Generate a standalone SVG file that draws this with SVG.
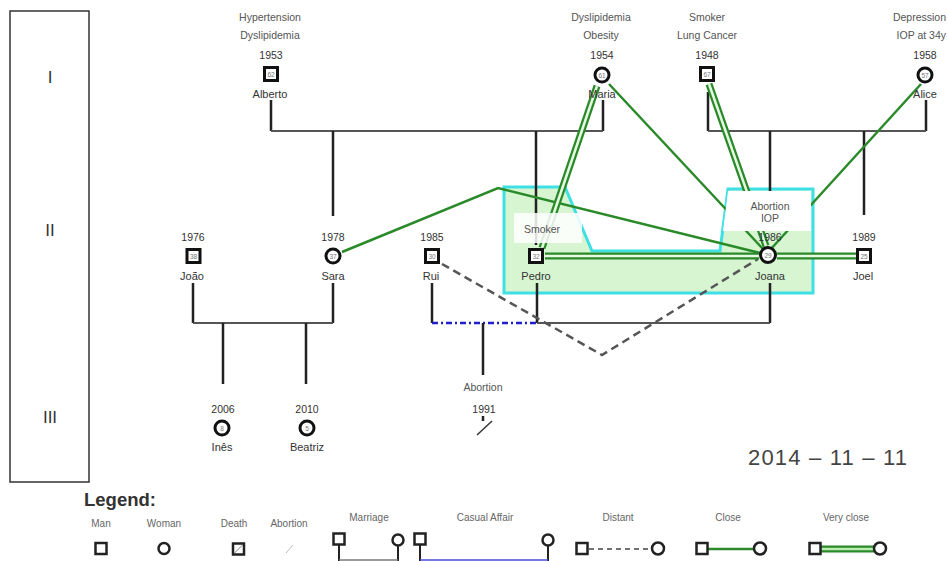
<svg xmlns="http://www.w3.org/2000/svg" width="948" height="561" viewBox="0 0 948 561">
<style>
text{font-family:"Liberation Sans",Arial,sans-serif;}
.cond{font-size:10.5px;fill:#555;text-anchor:middle;}
.yr{font-size:10.5px;fill:#333;text-anchor:middle;}
.nm{font-size:11px;fill:#333;text-anchor:middle;}
.age{font-size:6.5px;fill:#777;text-anchor:middle;}
.sq{fill:#fff;stroke:#111;stroke-width:3;}
.ci{fill:#fff;stroke:#111;stroke-width:3;}
.fam{stroke:#222;stroke-width:2.5;fill:none;}
.hz{stroke:#555;stroke-width:2;fill:none;}
.close{stroke:#2a8a2a;stroke-width:2.5;fill:none;}
.vc-o{stroke:#2a8a2a;stroke-width:7;fill:none;}
.vc-i{stroke:#e6fae2;stroke-width:2.5;fill:none;}
.dist{stroke:#555;stroke-width:2.5;stroke-dasharray:8 5;fill:none;}
.aff{stroke:#1f1fcc;stroke-width:2.5;stroke-dasharray:6 3 2 3;fill:none;}
.gen{font-size:17px;fill:#333;text-anchor:middle;}
.lg{font-size:10px;fill:#666;text-anchor:middle;}
.lsq{fill:#fff;stroke:#222;stroke-width:2.5;}
</style>
<rect width="948" height="561" fill="#fff"/>

<g id="generations">
<rect x="10" y="11" width="79" height="471" fill="none" stroke="#333" stroke-width="1.5"/>
<text class="gen" x="50" y="83">I</text>
<text class="gen" x="50" y="236">II</text>
<text class="gen" x="50" y="423">III</text>
</g>

<g id="highlight">
<polygon points="504,187 565,187 592,251 720,251 728,189 813,189 813,293 504,293" fill="#d6f5d0" stroke="#3ee0e6" stroke-width="3"/>
</g>

<g id="connectors">
<path class="fam" d="M271,100 V131 M603,100 V131"/>
<path class="hz" d="M271,131 H603"/>
<path class="fam" d="M333,131 V216 M536,131 V245"/>
<path class="fam" d="M708,92 V131 M926,100 V131"/>
<path class="hz" d="M708,131 H926"/>
<path class="fam" d="M770,131 V195 M864,131 V215"/>
<path class="fam" d="M193,283 V323 M333,283 V323"/>
<path class="hz" d="M193,323 H333"/>
<path class="fam" d="M223,323 V384 M306,323 V384"/>
<path class="fam" d="M432,283 V323 M537,283 V323 M770,283 V323"/>
<path class="hz" d="M537,323 H770"/>
<path class="aff" d="M432,323 H537"/>
<path class="fam" d="M483,323 V375"/>
<path class="dist" d="M442,264 L602,355 L758,259"/>
<path class="close" d="M342,252 L498,188 L760,253"/>
<path class="close" d="M609,84 L763,249"/>
<path class="close" d="M921,84 L770,250"/>
<path class="vc-o" d="M597,86 L542,248"/>
<path class="vc-i" d="M597,86 L542,248"/>
<path class="vc-o" d="M709,84 L766,246"/>
<path class="vc-i" d="M709,84 L766,246"/>
<path class="vc-o" d="M545,256 H759 M777,256 H856"/>
<path class="vc-i" d="M545,256 H759 M777,256 H856"/>
</g>

<g id="label-backgrounds">
<rect x="514" y="213" width="68" height="30" fill="#fff" opacity="0.85"/>
<polygon points="728,191 811,191 811,231 723,231" fill="#fff"/>
</g>

<g id="node-alberto">
<text class="cond" x="270" y="21">Hypertension</text>
<text class="cond" x="270" y="39">Dyslipidemia</text>
<text class="yr" x="271" y="59">1953</text>
<rect class="sq" x="264.5" y="67.5" width="13" height="13"/>
<text class="age" x="271" y="76.5">62</text>
<text class="nm" x="270" y="98">Alberto</text>
</g>

<g id="node-maria">
<text class="cond" x="601" y="21">Dyslipidemia</text>
<text class="cond" x="601" y="39">Obesity</text>
<text class="yr" x="602" y="59">1954</text>
<circle class="ci" cx="602" cy="75" r="7"/>
<text class="age" x="602" y="77.5">61</text>
<text class="nm" x="602" y="98">Maria</text>
</g>

<g id="node-1948">
<text class="cond" x="707" y="21">Smoker</text>
<text class="cond" x="707" y="39">Lung Cancer</text>
<text class="yr" x="707" y="59">1948</text>
<rect class="sq" x="700.5" y="67.5" width="13" height="13"/>
<text class="age" x="707" y="76.5">67</text>
</g>

<g id="node-alice">
<text class="cond" x="946" y="21" style="text-anchor:end">Depression</text>
<text class="cond" x="946" y="39" style="text-anchor:end">IOP at 34y</text>
<text class="yr" x="925" y="59">1958</text>
<circle class="ci" cx="925" cy="75" r="7"/>
<text class="age" x="925" y="77.5">57</text>
<text class="nm" x="925" y="98">Alice</text>
</g>

<g id="node-joao">
<text class="yr" x="193" y="241">1976</text>
<rect class="sq" x="187" y="249.5" width="13" height="13"/>
<text class="age" x="193.5" y="258.5">38</text>
<text class="nm" x="192" y="280">João</text>
</g>

<g id="node-sara">
<text class="yr" x="333" y="241">1978</text>
<circle class="ci" cx="333" cy="256" r="7"/>
<text class="age" x="333" y="258.5">37</text>
<text class="nm" x="333" y="280">Sara</text>
</g>

<g id="node-rui">
<text class="yr" x="432" y="241">1985</text>
<rect class="sq" x="425.5" y="249.5" width="13" height="13"/>
<text class="age" x="432" y="258.5">30</text>
<text class="nm" x="431" y="280">Rui</text>
</g>

<g id="node-pedro">
<text class="cond" x="542" y="233">Smoker</text>
<rect class="sq" x="529.5" y="249.5" width="13" height="13"/>
<text class="age" x="536" y="258.5">32</text>
<text class="nm" x="536" y="280">Pedro</text>
</g>

<g id="node-joana">
<text class="cond" x="770" y="210">Abortion</text>
<text class="cond" x="770" y="222">IOP</text>
<text class="yr" x="770" y="241">1986</text>
<circle class="ci" cx="768" cy="255" r="7.5"/>
<text class="age" x="768" y="257.5">29</text>
<text class="nm" x="770" y="280">Joana</text>
</g>

<g id="node-joel">
<text class="yr" x="864" y="241">1989</text>
<rect class="sq" x="857.5" y="249.5" width="13" height="13"/>
<text class="age" x="864" y="258.5">25</text>
<text class="nm" x="863" y="280">Joel</text>
</g>

<g id="node-ines">
<text class="yr" x="223" y="413">2006</text>
<circle class="ci" cx="222" cy="428" r="7"/>
<text class="age" x="222" y="430.5">8</text>
<text class="nm" x="222" y="451">Inês</text>
</g>

<g id="node-beatriz">
<text class="yr" x="307" y="413">2010</text>
<circle class="ci" cx="307" cy="428" r="7"/>
<text class="age" x="307" y="430.5">5</text>
<text class="nm" x="307" y="451">Beatriz</text>
</g>

<g id="node-abortion">
<text class="cond" x="483" y="391">Abortion</text>
<text class="yr" x="484" y="413">1991</text>
<path d="M483,416 V421" stroke="#222" stroke-width="2.5"/>
<path d="M477,435 L492,421" stroke="#333" stroke-width="1.5"/>
</g>

<g id="date">
<text x="748" y="465" font-size="22" fill="#444" textLength="159">2014 – 11 – 11</text>
</g>

<g id="legend">
<text x="84" y="506" font-size="18.5" font-weight="bold" fill="#333">Legend:</text>
<text class="lg" x="101" y="527">Man</text>
<text class="lg" x="164" y="527">Woman</text>
<text class="lg" x="234" y="527">Death</text>
<text class="lg" x="289" y="527">Abortion</text>
<text class="lg" x="369" y="521">Marriage</text>
<text class="lg" x="485" y="521">Casual Affair</text>
<text class="lg" x="618" y="521">Distant</text>
<text class="lg" x="728" y="521">Close</text>
<text class="lg" x="846" y="521">Very close</text>
<rect class="lsq" x="95.5" y="543" width="11" height="11"/>
<circle cx="164" cy="548.5" r="5.5" fill="#fff" stroke="#222" stroke-width="2.5"/>
<rect class="lsq" x="233" y="543.5" width="11" height="11"/>
<path d="M234.5,553 L242.5,545" stroke="#888" stroke-width="1"/>
<path d="M286,553 L293,545" stroke="#bbb" stroke-width="1"/>
<path d="M339,545 V561 M398,546 V561 M420,545 V561 M548,546 V561" stroke="#222" stroke-width="2"/>
<path d="M339,560 H398" stroke="#777" stroke-width="1.5"/>
<path d="M420,560 H548" stroke="#4848dd" stroke-width="1.5"/>
<rect class="lsq" x="333.5" y="533.5" width="11" height="11"/>
<circle cx="398" cy="540" r="5.5" fill="#fff" stroke="#222" stroke-width="2.5"/>
<rect class="lsq" x="414.5" y="533.5" width="11" height="11"/>
<circle cx="548" cy="540" r="5.5" fill="#fff" stroke="#222" stroke-width="2.5"/>
<path d="M589,549 H650" stroke="#444" stroke-width="1.5" stroke-dasharray="5 4"/>
<rect class="lsq" x="576.5" y="543" width="11" height="11"/>
<circle cx="658" cy="548.5" r="6" fill="#fff" stroke="#222" stroke-width="2.5"/>
<path d="M708,549 H754" class="close"/>
<rect class="lsq" x="696.5" y="543" width="11" height="11"/>
<circle cx="760" cy="548.5" r="6" fill="#fff" stroke="#222" stroke-width="2.5"/>
<path d="M821,549 H874" stroke="#2a8a2a" stroke-width="7"/>
<path d="M821,549 H874" stroke="#b8ecb0" stroke-width="2.5"/>
<rect class="lsq" x="809.5" y="543" width="11" height="11"/>
<circle cx="880" cy="548.5" r="6" fill="#fff" stroke="#222" stroke-width="2.5"/>
</g>
</svg>
